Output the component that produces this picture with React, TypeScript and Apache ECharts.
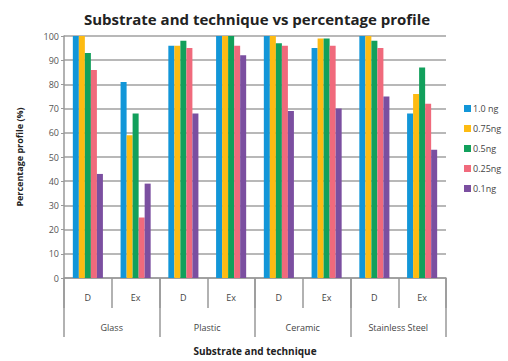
import React, { useEffect, useRef } from "react";
import * as echarts from "echarts";

const techniques = ["D", "Ex", "D", "Ex", "D", "Ex", "D", "Ex"];
const substrates = ["Glass", "Plastic", "Ceramic", "Stainless Steel"];
const seriesNames = ["1.0 ng", "0.75ng", "0.5ng", "0.25ng", "0.1ng"];
const ng10 = [100, 81, 96, 100, 100, 95, 100, 68];
const ng075 = [100, 59, 96, 100, 100, 99, 100, 76];
const ng05 = [93, 68, 98, 100, 97, 99, 98, 87];
const ng025 = [86, 25, 95, 96, 96, 96, 95, 72];
const ng01 = [43, 39, 68, 92, 69, 70, 75, 53];
const colors = ["#1296d8", "#fdbb12", "#12a05c", "#f06a7c", "#7b4fa0"];

export default function App() {
  const ref = useRef<HTMLDivElement>(null);
  useEffect(() => {
    if (!ref.current) return;
    const chart = echarts.init(ref.current, undefined, { renderer: "svg" });
    const font = "Open Sans";
    const values = [ng10, ng075, ng05, ng025, ng01];
    chart.setOption({
      animation: false,
      color: colors,
      title: {
        text: "Substrate and technique vs percentage profile",
        left: 252,
        textAlign: "center",
        top: 6,
        textStyle: { fontFamily: font, fontSize: 15, fontWeight: "bold", color: "#222" },
      },
      legend: {
        orient: "vertical",
        left: 459,
        top: 99,
        itemWidth: 7,
        itemHeight: 7,
        itemGap: 11,
        icon: "rect",
        data: seriesNames,
        textStyle: { fontFamily: font, fontSize: 9, color: "#444", padding: [0, 0, 0, -3] },
      },
      grid: { left: 64, right: 62, top: 36, bottom: 78 },
      xAxis: [
        {
          type: "category",
          data: techniques,
          position: "bottom",
          axisLine: { lineStyle: { color: "#999", width: 1.5 } },
          axisTick: { show: true, interval: 0, length: 30, lineStyle: { color: "#999", width: 1.5 } },
          axisLabel: { interval: 0, margin: 15, fontFamily: font, fontSize: 9, color: "#444" },
        },
        {
          type: "category",
          data: substrates,
          position: "bottom",
          offset: 0,
          axisLine: { show: false },
          axisTick: { show: true, interval: 0, length: 59, lineStyle: { color: "#999", width: 1.5 } },
          axisLabel: { interval: 0, margin: 45, fontFamily: font, fontSize: 9, color: "#444" },
          name: "Substrate and technique",
          nameLocation: "middle",
          nameGap: 68,
          nameTextStyle: { fontFamily: font, fontSize: 10, fontWeight: "bold", color: "#222" },
        },
      ],
      yAxis: {
        type: "value",
        min: 0,
        max: 100,
        interval: 10,
        name: "Percentage profile (%)",
        nameLocation: "middle",
        nameGap: 40,
        nameTextStyle: { fontFamily: font, fontSize: 9, fontWeight: "bold", color: "#222" },
        axisLine: { show: true, lineStyle: { color: "#999", width: 1.5 } },
        axisTick: { show: true, length: 3, lineStyle: { color: "#999" } },
        axisLabel: { margin: 5, fontFamily: font, fontSize: 9, color: "#555" },
        splitLine: { show: true, lineStyle: { color: "#a0a0a0", width: 1.5 } },
      },
      series: seriesNames.map((name, i) => ({
        name,
        type: "bar",
        xAxisIndex: 0,
        data: values[i],
        barGap: "0%",
        barCategoryGap: "37%",
        itemStyle: { color: colors[i] },
      })),
    });
    return () => chart.dispose();
  }, []);
  return <div ref={ref} style={{ width: 508, height: 361, position: "absolute", left: 0, top: 0 }} />;
}
